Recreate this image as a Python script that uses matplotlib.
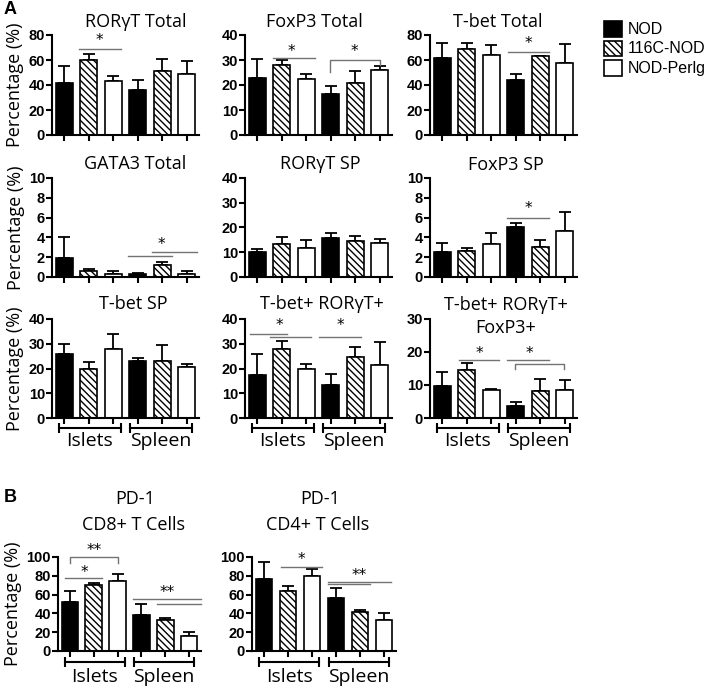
import numpy as np
import matplotlib
matplotlib.use('Agg')
import matplotlib.pyplot as plt
import matplotlib.transforms as mtransforms
from matplotlib.patches import Rectangle

W, H = 709, 688

groups = ['NOD', '116C-NOD', 'NOD-Perlg']
sites = ['Islets', 'Spleen']

# mean % and upper SEM, order: NOD, 116C-NOD, NOD-Perlg (islets) then same for spleen
ror_total = [42, 60, 43, 36, 51, 49]
ror_total_err = [13, 5, 4, 8, 10, 10]
foxp3_total = [23, 28, 22.5, 16.5, 21, 26]
foxp3_total_err = [7.5, 2, 2, 3, 4.5, 1.8]
tbet_total = [61.5, 69, 64, 44, 63, 58]
tbet_total_err = [12, 5, 8, 5, 0.6, 15]
gata3_total = [1.9, 0.6, 0.3, 0.35, 1.25, 0.3]
gata3_total_err = [2.1, 0.25, 0.3, 0.05, 0.3, 0.35]
ror_sp = [10.3, 13.3, 11.8, 15.8, 14.6, 13.9]
ror_sp_err = [1.1, 2.8, 3.3, 2.0, 1.9, 1.5]
foxp3_sp = [2.5, 2.6, 3.3, 5.1, 3.0, 4.6]
foxp3_sp_err = [0.9, 0.3, 1.1, 0.4, 0.75, 2.0]
tbet_sp = [26, 19.8, 28, 23, 23.2, 20.5]
tbet_sp_err = [3.8, 3, 6, 1.2, 6.3, 1.4]
tbet_ror = [17.5, 28, 20, 13.2, 24.8, 21.5]
tbet_ror_err = [8.5, 3.2, 1.9, 4.5, 4, 9.3]
tbet_ror_fox = [9.6, 14.5, 8.5, 3.5, 8.3, 8.6]
tbet_ror_fox_err = [4.4, 2.1, 0.2, 1.4, 3.4, 2.9]
pd1_cd8 = [52, 70, 74, 38, 33, 16]
pd1_cd8_err = [12, 2.5, 8, 11.5, 2, 4.3]
pd1_cd4 = [77, 64, 80, 56.5, 41.5, 32.5]
pd1_cd4_err = [18, 5, 7, 10, 2.5, 7.5]

TITLE_FONT = ['Open Sans', 'DejaVu Sans']
TICK_FONT = 'Liberation Sans'
HATCH = '\\' * 5
SIG = '0.45'

fig = plt.figure(figsize=(W / 100, H / 100), dpi=100)


def px_axes(left, top, width, height):
    return fig.add_axes([left / W, 1 - (top + height) / H, width / W, height / H])


def fig_text(x, y, s, **kw):
    fig.text(x / W, 1 - y / H, s, ha='center', va='center', **kw)


def draw_panel(ax, means, errs, ymax, ystep, ylabel=True):
    x = np.arange(6)
    colors = ['black', 'white', 'white'] * 2
    hatches = [None, HATCH, None] * 2
    for i in range(6):
        ax.bar(x[i], means[i], width=0.7, color=colors[i], edgecolor='black',
               hatch=hatches[i], linewidth=1.2, zorder=2)
    ax.errorbar(x, means, yerr=[np.zeros(6), errs], fmt='none', ecolor='black',
                elinewidth=1.3, capsize=4, capthick=1.3, zorder=1)
    ax.set_xlim(-0.5, 5.5)
    ax.set_ylim(0, ymax)
    ax.set_yticks(np.arange(0, ymax + 0.01, ystep))
    ax.set_xticks(x)
    ax.set_xticklabels([])
    for s in ['top', 'right']:
        ax.spines[s].set_visible(False)
    for s in ['left', 'bottom']:
        ax.spines[s].set_linewidth(1.5)
    ax.tick_params(direction='out', length=4, width=1.5, pad=1)
    for lab in ax.get_yticklabels():
        lab.set_fontfamily(TICK_FONT)
        lab.set_fontweight('bold')
        lab.set_fontsize(10.5)
    if ylabel:
        ax.set_ylabel('Percentage (%)', family=TITLE_FONT, fontsize=13, labelpad=3)


def sig_line(ax, x0, x1, y):
    ax.plot([x0, x1], [y, y], color=SIG, lw=1.0, clip_on=False, zorder=3)


def sig_bracket(ax, x0, x1, y, yl, yr):
    ax.plot([x0, x0, x1, x1], [yl, y, y, yr], color=SIG, lw=1.0, clip_on=False, zorder=3)


def star(ax, x, y, s='*'):
    ax.text(x, y, s, ha='center', va='center', fontsize=11, clip_on=False)


def site_brackets(ax, ypos, tpos):
    tr = mtransforms.blended_transform_factory(ax.transData, ax.transAxes)
    for (x0, x1), name in zip([(-0.2, 2.3), (2.7, 5.2)], sites):
        ax.plot([x0, x1], [ypos, ypos], color='black', lw=1.5, marker='|',
                markersize=7, markeredgewidth=1.5, transform=tr, clip_on=False)
        ax.text((x0 + x1) / 2, tpos, name, transform=tr, ha='center', va='center',
                fontsize=14, family=TITLE_FONT)


cols = [52, 245, 430]
AW = 147

# row 1
ax1 = px_axes(cols[0], 35, AW, 100)
draw_panel(ax1, ror_total, ror_total_err, 80, 20)
sig_line(ax1, 0.6, 2.3, 69)
star(ax1, 1.45, 76)

ax2 = px_axes(cols[1], 35, AW, 100)
draw_panel(ax2, foxp3_total, foxp3_total_err, 40, 10, ylabel=False)
sig_line(ax2, 0.65, 2.35, 31)
star(ax2, 1.4, 33.5)
sig_bracket(ax2, 2.95, 5.0, 30, 25.2, 28)
star(ax2, 3.95, 33.5)

ax3 = px_axes(cols[2], 35, AW, 100)
draw_panel(ax3, tbet_total, tbet_total_err, 80, 20, ylabel=False)
sig_line(ax3, 2.7, 4.35, 66.5)
star(ax3, 3.5, 73)

# row 2
ax4 = px_axes(cols[0], 178, AW, 99)
draw_panel(ax4, gata3_total, gata3_total_err, 10, 2)
sig_line(ax4, 2.6, 4.4, 2.1)
sig_line(ax4, 3.6, 5.4, 2.5)
star(ax4, 3.98, 3.3)

ax5 = px_axes(cols[1], 178, AW, 99)
draw_panel(ax5, ror_sp, ror_sp_err, 40, 10, ylabel=False)

ax6 = px_axes(cols[2], 178, AW, 99)
draw_panel(ax6, foxp3_sp, foxp3_sp_err, 10, 2, ylabel=False)
sig_line(ax6, 2.65, 4.35, 5.95)
star(ax6, 3.5, 6.9)

# row 3
ax7 = px_axes(cols[0], 319, AW, 99)
draw_panel(ax7, tbet_sp, tbet_sp_err, 40, 10)
site_brackets(ax7, -0.1, -0.23)

ax8 = px_axes(cols[1], 319, AW, 99)
draw_panel(ax8, tbet_ror, tbet_ror_err, 40, 10, ylabel=False)
sig_line(ax8, -0.3, 1.2, 33.8)
sig_line(ax8, 0.5, 2.2, 32.6)
star(ax8, 0.9, 37.5)
sig_line(ax8, 2.5, 4.25, 32.6)
star(ax8, 3.4, 37.5)
site_brackets(ax8, -0.1, -0.23)

ax9 = px_axes(cols[2], 319, AW, 99)
draw_panel(ax9, tbet_ror_fox, tbet_ror_fox_err, 30, 10, ylabel=False)
sig_line(ax9, 0.7, 2.3, 17.6)
star(ax9, 1.5, 19.6)
sig_line(ax9, 2.65, 4.35, 17.6)
sig_bracket(ax9, 2.95, 4.95, 16.5, 15.0, 15.0)
star(ax9, 3.55, 19.6)
site_brackets(ax9, -0.1, -0.23)

# panel B
axb1 = px_axes(58, 557, 143, 94)
draw_panel(axb1, pd1_cd8, pd1_cd8_err, 100, 20)
sig_line(axb1, -0.2, 1.35, 77.7)
star(axb1, 0.6, 83)
sig_bracket(axb1, 0.0, 2.0, 100, 93.5, 93.5)
star(axb1, 1.0, 107, '**')
sig_line(axb1, 2.65, 5.5, 55)
sig_line(axb1, 3.65, 5.5, 50.5)
star(axb1, 4.1, 62, '**')
site_brackets(axb1, -0.12, -0.28)

axb2 = px_axes(252, 557, 144, 94)
draw_panel(axb2, pd1_cd4, pd1_cd4_err, 100, 20, ylabel=False)
sig_line(axb2, 0.7, 2.4, 89.8)
star(axb2, 1.55, 97)
sig_line(axb2, 2.65, 4.4, 71.2)
sig_line(axb2, 2.65, 5.3, 73.7)
star(axb2, 3.95, 80.5, '**')
site_brackets(axb2, -0.12, -0.28)

# titles
tkw = dict(fontsize=13, family=TITLE_FONT)
fig_text(136, 22, 'RORγT Total', **tkw)
fig_text(314, 22, 'FoxP3 Total', **tkw)
fig_text(498, 22, 'T-bet Total', **tkw)
fig_text(135, 164, 'GATA3 Total', **tkw)
fig_text(320, 164, 'RORγT SP', **tkw)
fig_text(506, 165, 'FoxP3 SP', **tkw)
fig_text(133, 304, 'T-bet SP', **tkw)
fig_text(322, 304, 'T-bet+ RORγT+', **tkw)
fig_text(506, 305, 'T-bet+ RORγT+', **tkw)
fig_text(506, 328, 'FoxP3+', **tkw)
fig_text(135, 499, 'PD-1', **tkw)
fig_text(134, 525, 'CD8+ T Cells', **tkw)
fig_text(320, 499, 'PD-1', **tkw)
fig_text(318, 525, 'CD4+ T Cells', **tkw)

# panel letters
fig_text(10, 10, 'A', fontsize=13, fontweight='bold', family=TICK_FONT)
fig_text(10, 498, 'B', fontsize=13, fontweight='bold', family=TICK_FONT)

# legend
leg_y = [29, 48.5, 68]
for name, y, fc, h in zip(groups, leg_y, ['black', 'white', 'white'], [None, HATCH, None]):
    fig.add_artist(Rectangle((604 / W, 1 - (y + 7.5) / H), 18 / W, 15 / H,
                             transform=fig.transFigure, facecolor=fc, edgecolor='black',
                             hatch=h, linewidth=1.2))
    fig.text(628 / W, 1 - y / H, name, ha='left', va='center', fontsize=11.5,
             family=TICK_FONT)

fig.savefig('out.png', dpi=100)
